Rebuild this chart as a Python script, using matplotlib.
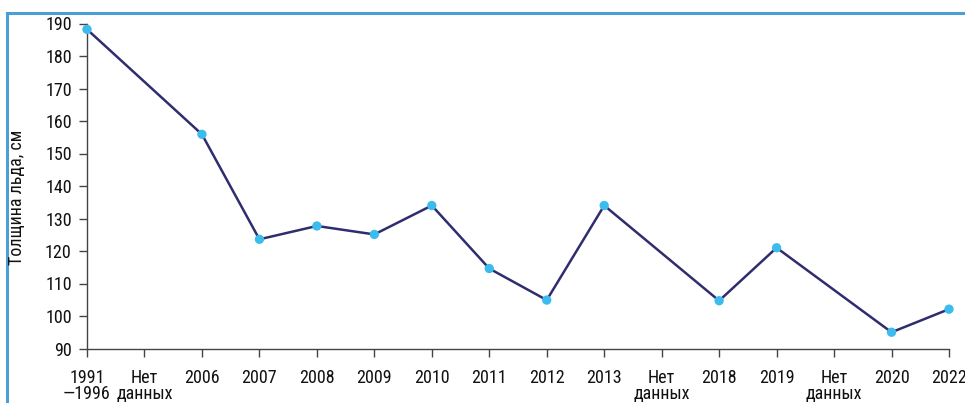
import numpy as np
import matplotlib
matplotlib.use("Agg")
import matplotlib.pyplot as plt
from matplotlib.lines import Line2D

plt.rcParams['font.family'] = ['Roboto Condensed', 'PT Sans Narrow', 'Liberation Sans', 'DejaVu Sans']

categories = ["1991\n—1996", "Нет\nданных", "2006", "2007", "2008", "2009", "2010", "2011",
              "2012", "2013", "Нет\nданных", "2018", "2019", "Нет\nданных", "2020", "2022"]
values = [188.2, None, 155.9, 123.6, 127.7, 125.1, 134.0, 114.6,
          104.9, 134.0, None, 104.7, 121.0, None, 95.0, 102.1]
y_ticks = [90, 100, 110, 120, 130, 140, 150, 160, 170, 180, 190]
y_label = "Толщина льда, см"

W, H = 965, 403
fig = plt.figure(figsize=(W / 100, H / 100), dpi=100)
ax = fig.add_axes([87 / W, 1 - 348.5 / H, (949 - 87) / W, (348.5 - 23.5) / H])

xs = [i for i, v in enumerate(values) if v is not None]
ys = [v for v in values if v is not None]
ax.plot(xs, ys, color='#2f2d6e', lw=1.8, zorder=2, solid_capstyle='round', clip_on=False)
ax.scatter(xs, ys, s=45, color='#3cbcec', zorder=3, edgecolors='none', clip_on=False)

ax.set_xlim(0, len(categories) - 1)
ax.set_ylim(90, 190)
ax.set_xticks(range(len(categories)))
ax.set_xticklabels(categories, fontsize=13, color='#111111', linespacing=0.88)
ax.set_yticks(y_ticks)
ax.set_yticklabels([str(t) for t in y_ticks], fontsize=13, color='#111111')
ax.tick_params(axis='both', direction='out', length=6, width=1.0, color='#444444')
ax.tick_params(axis='y', pad=5)
ax.tick_params(axis='x', pad=8.5)
for s in ['top', 'right']:
    ax.spines[s].set_visible(False)
for s in ['left', 'bottom']:
    ax.spines[s].set_color('#444444')
    ax.spines[s].set_linewidth(1.0)

fig.text(17 / W, 1 - 197 / H, y_label, rotation=90, ha='center', va='center',
         fontsize=13, color='#111111')

frame_c = '#4a9fd4'
fig.add_artist(Line2D([7 / W, 7 / W], [0, 1 - 13 / H], transform=fig.transFigure, color=frame_c, lw=2.2))
fig.add_artist(Line2D([7 / W, 1], [1 - 13 / H, 1 - 13 / H], transform=fig.transFigure, color=frame_c, lw=2.2))

fig.savefig("out.png", dpi=100)
